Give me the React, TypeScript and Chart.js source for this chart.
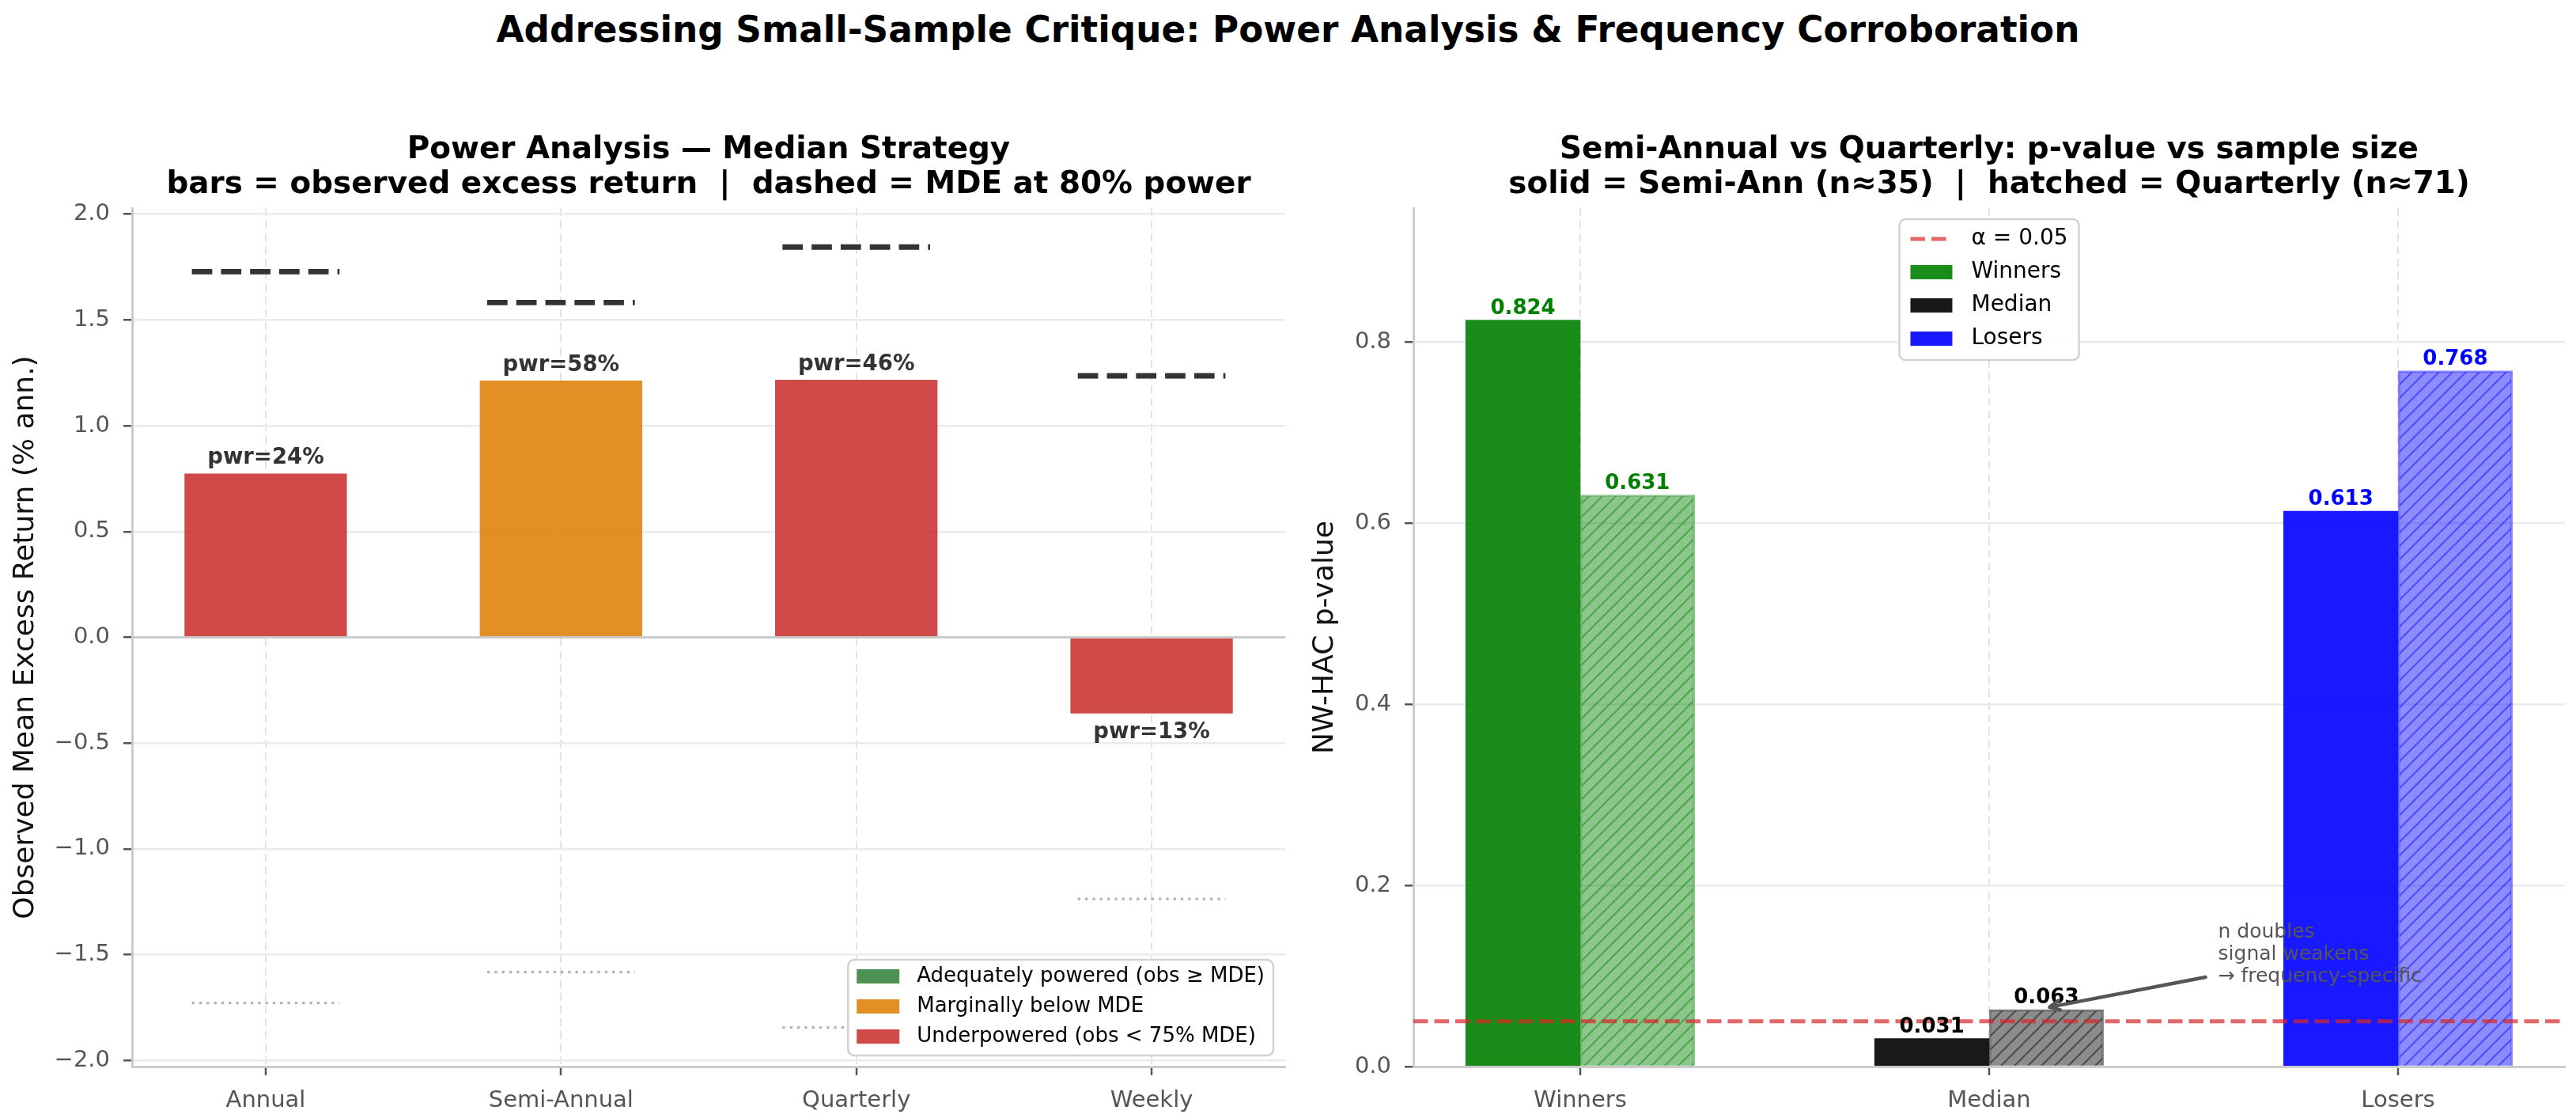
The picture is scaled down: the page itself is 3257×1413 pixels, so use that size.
import { useEffect, useRef } from 'react';
import { Chart, registerables } from 'chart.js';

Chart.register(...registerables);

const FONT = '"DejaVu Sans", "Liberation Sans", sans-serif';

// ---- Left panel: power analysis of the median strategy ----
const frequencies = ['Annual', 'Semi-Annual', 'Quarterly', 'Weekly'];
const observedExcess = [0.774, 1.213, 1.217, -0.36]; // % annualised
const mde80 = [1.728, 1.582, 1.844, 1.236]; // minimum detectable effect at 80% power
const powerPct = [24, 58, 46, 13];
const returnTicks = [-2, -1.5, -1, -0.5, 0, 0.5, 1, 1.5, 2];

const powerClasses = [
  { label: 'Adequately powered (obs \u2265 MDE)', color: 'rgba(58,134,64,0.9)' },
  { label: 'Marginally below MDE', color: 'rgba(223,131,14,0.9)' },
  { label: 'Underpowered (obs < 75% MDE)', color: 'rgba(203,54,54,0.9)' },
];

// ---- Right panel: NW-HAC p-values, semi-annual vs quarterly rebalancing ----
const portfolios = ['Winners', 'Median', 'Losers'];
const pSemiAnnual = [0.824, 0.031, 0.613];
const pQuarterly = [0.631, 0.063, 0.768];
const pTicks = [0, 0.2, 0.4, 0.6, 0.8];
const alphaLevel = 0.05;
const portfolioRGB = ['0,128,0', '0,0,0', '0,0,255'];
const noteLines = ['n doubles', 'signal weakens', '\u2192 frequency-specific'];

// ---- Layout ----
const PAGE_W = 3257;
const PAGE_H = 1413;
const PLOT_TOP = 263;
const X_AXIS_H = 65;
const LEFT_CANVAS_W = 1650;
const RIGHT_CANVAS_W = PAGE_W - LEFT_CANVAS_W;

const POWER_BAR_W = 0.55;
const MDE_HALF = 0.25;
const PAIR_BAR_W = 0.28;
const PAIR_OFF = PAIR_BAR_W / 2;

const TICK_FONT = { family: FONT, size: 29 };
const TICK_COLOR = '#555555';

function powerClass(obs: number, mde: number) {
  if (obs >= mde) return powerClasses[0];
  if (obs >= 0.75 * mde) return powerClasses[1];
  return powerClasses[2];
}

function fmtSigned(v: number, digits: number) {
  const s = Math.abs(v).toFixed(digits);
  return v < 0 ? '\u2212' + s : s;
}

function hatchPattern(rgb: string, alpha: number, spacing: number, lineWidth: number) {
  const c = document.createElement('canvas');
  c.width = spacing;
  c.height = spacing;
  const g = c.getContext('2d')!;
  g.fillStyle = `rgba(${rgb},${alpha})`;
  g.fillRect(0, 0, spacing, spacing);
  g.strokeStyle = `rgba(${rgb},${alpha})`;
  g.lineWidth = lineWidth;
  g.beginPath();
  for (const k of [0, 1, 2]) {
    const cst = k * spacing;
    g.moveTo(-2, cst + 2);
    g.lineTo(spacing + 2, cst - spacing - 2);
  }
  g.stroke();
  return g.createPattern(c, 'repeat')!;
}

function drawTitle(ctx: CanvasRenderingContext2D, cx: number, lines: string[]) {
  ctx.save();
  ctx.font = `bold 38.9px ${FONT}`;
  ctx.fillStyle = '#000';
  ctx.textAlign = 'center';
  ctx.textBaseline = 'alphabetic';
  ctx.fillText(lines[0], cx, 200);
  ctx.fillText(lines[1], cx, 244);
  ctx.restore();
}

function drawYLabel(ctx: CanvasRenderingContext2D, x: number, cy: number, text: string) {
  ctx.save();
  ctx.translate(x, cy);
  ctx.rotate(-Math.PI / 2);
  ctx.font = `36px ${FONT}`;
  ctx.fillStyle = '#111';
  ctx.textAlign = 'center';
  ctx.textBaseline = 'middle';
  ctx.fillText(text, 0, 0);
  ctx.restore();
}

function drawFrame(ctx: CanvasRenderingContext2D, x: number, y: number, w: number, h: number) {
  ctx.beginPath();
  ctx.roundRect(x, y, w, h, 8);
  ctx.fillStyle = 'rgba(255,255,255,0.92)';
  ctx.fill();
  ctx.strokeStyle = '#d2d2d2';
  ctx.lineWidth = 2.5;
  ctx.stroke();
}

function linearX(labels: string[], min: number, max: number, dashed: boolean) {
  return {
    type: 'linear' as const,
    min,
    max,
    offset: false,
    afterBuildTicks: (s: any) => {
      s.ticks = labels.map((_, i) => ({ value: i }));
    },
    afterFit: (s: any) => {
      s.height = X_AXIS_H;
      s.paddingLeft = 0;
      s.paddingRight = 0;
    },
    ticks: {
      callback: (v: any) => labels[Math.round(Number(v))],
      font: TICK_FONT,
      color: TICK_COLOR,
      padding: 15,
      autoSkip: false,
      maxRotation: 0,
    },
    grid: {
      offset: false,
      color: '#e3e3e3',
      lineWidth: 2,
      tickColor: TICK_COLOR,
      tickLength: 11,
      tickWidth: 2.5,
    },
    border: { color: '#cccccc', width: 3, dash: dashed ? [10, 6] : [] },
  };
}

function linearY(min: number, max: number, ticks: number[], width: number, digits: number) {
  return {
    type: 'linear' as const,
    min,
    max,
    afterBuildTicks: (s: any) => {
      s.ticks = ticks.map((v) => ({ value: v }));
    },
    afterFit: (s: any) => {
      s.width = width;
      s.paddingTop = 0;
      s.paddingBottom = 0;
    },
    ticks: {
      callback: (v: any) => fmtSigned(Number(v), digits),
      font: TICK_FONT,
      color: TICK_COLOR,
      padding: 17,
    },
    grid: {
      color: '#ebebeb',
      lineWidth: 2.5,
      tickColor: TICK_COLOR,
      tickLength: 11,
      tickWidth: 2.5,
    },
    border: { color: '#cccccc', width: 3 },
  };
}

function buildPowerConfig(): any {
  const yLim = Math.max(...mde80) * 1.1;
  const span = frequencies.length - 1 + POWER_BAR_W;
  const xMin = -POWER_BAR_W / 2 - 0.05 * span;
  const xMax = frequencies.length - 1 + POWER_BAR_W / 2 + 0.05 * span;

  const segments = (vals: number[]) =>
    vals.flatMap((v, i) => [
      { x: i - MDE_HALF, y: v },
      { x: i + MDE_HALF, y: v },
      { x: i + 0.5, y: null },
    ]);

  const decor = {
    id: 'powerDecor',
    afterDatasetsDraw(chart: any) {
      const { ctx, chartArea: a, scales } = chart;
      ctx.save();
      const y0 = scales.y.getPixelForValue(0);
      ctx.strokeStyle = '#c6c6c6';
      ctx.lineWidth = 2.5;
      ctx.beginPath();
      ctx.moveTo(a.left, y0);
      ctx.lineTo(a.right, y0);
      ctx.stroke();

      const meta = chart.getDatasetMeta(0);
      ctx.font = `bold 27.5px ${FONT}`;
      ctx.fillStyle = '#333333';
      ctx.textAlign = 'center';
      meta.data.forEach((el: any, i: number) => {
        const txt = `pwr=${powerPct[i]}%`;
        if (observedExcess[i] >= 0) {
          ctx.textBaseline = 'alphabetic';
          ctx.fillText(txt, el.x, el.y - 12);
        } else {
          ctx.textBaseline = 'top';
          ctx.fillText(txt, el.x, el.y + 10);
        }
      });
      ctx.restore();
    },
    afterDraw(chart: any) {
      const { ctx, chartArea: a } = chart;
      drawTitle(ctx, (a.left + a.right) / 2, [
        'Power Analysis \u2014 Median Strategy',
        'bars = observed excess return  |  dashed = MDE at 80% power',
      ]);
      drawYLabel(ctx, 33, (a.top + a.bottom) / 2, 'Observed Mean Excess Return (% ann.)');

      ctx.save();
      ctx.font = `26px ${FONT}`;
      const textW = Math.max(...powerClasses.map((c) => ctx.measureText(c.label).width));
      const padX = 11;
      const sw = 54;
      const gap = 22;
      const rowH = 38;
      const boxW = padX + sw + gap + textW + padX;
      const boxH = 21 + rowH * (powerClasses.length - 1) + 24;
      const bx = a.right - 15 - boxW;
      const by = a.bottom - 14 - boxH;
      drawFrame(ctx, bx, by, boxW, boxH);
      powerClasses.forEach((c, i) => {
        const cy = by + 21 + i * rowH;
        ctx.fillStyle = c.color;
        ctx.fillRect(bx + padX, cy - 9, sw, 18);
        ctx.fillStyle = '#000';
        ctx.textAlign = 'left';
        ctx.textBaseline = 'middle';
        ctx.fillText(c.label, bx + padX + sw + gap, cy);
      });
      ctx.restore();
    },
  };

  return {
    type: 'bar',
    data: {
      datasets: [
        {
          type: 'bar',
          label: 'Observed excess return',
          data: frequencies.map((_, i) => ({ x: i, y: observedExcess[i] })),
          backgroundColor: frequencies.map((_, i) => powerClass(observedExcess[i], mde80[i]).color),
          borderWidth: 0,
          barPercentage: POWER_BAR_W,
          categoryPercentage: 1,
          order: 2,
        },
        {
          type: 'line',
          label: 'MDE (80% power)',
          data: segments(mde80),
          borderColor: '#333333',
          borderWidth: 6.9,
          borderDash: [25.7, 11.1],
          pointRadius: 0,
          spanGaps: false,
          order: 0,
        },
        {
          type: 'line',
          label: '\u2212MDE',
          data: segments(mde80.map((v) => -v)),
          borderColor: 'rgba(128,128,128,0.6)',
          borderWidth: 3.3,
          borderDash: [3.3, 6],
          pointRadius: 0,
          spanGaps: false,
          order: 0,
        },
      ],
    },
    options: {
      animation: false,
      responsive: false,
      devicePixelRatio: 1,
      events: [],
      layout: { padding: { left: 0, top: PLOT_TOP, right: LEFT_CANVAS_W - 1625, bottom: 0 } },
      plugins: { legend: { display: false }, tooltip: { enabled: false }, title: { display: false } },
      scales: {
        x: linearX(frequencies, xMin, xMax, true),
        y: linearY(-yLim, yLim, returnTicks, 167, 1),
      },
    },
    plugins: [decor],
  };
}

function buildPValueConfig(): any {
  const yMax = Math.max(...pSemiAnnual, ...pQuarterly) * 1.15;
  const span = portfolios.length - 1 + 2 * PAIR_BAR_W;
  const xMin = -PAIR_BAR_W - 0.05 * span;
  const xMax = portfolios.length - 1 + PAIR_BAR_W + 0.05 * span;
  const hatched = portfolioRGB.map((rgb) => hatchPattern(rgb, 0.45, 17, 2.2));

  const decor = {
    id: 'pvalueDecor',
    afterDatasetsDraw(chart: any) {
      const { ctx, scales } = chart;
      ctx.save();
      ctx.font = `bold 26px ${FONT}`;
      ctx.textAlign = 'center';
      ctx.textBaseline = 'alphabetic';
      [
        { idx: 1, vals: pSemiAnnual },
        { idx: 2, vals: pQuarterly },
      ].forEach(({ idx, vals }) => {
        chart.getDatasetMeta(idx).data.forEach((el: any, i: number) => {
          ctx.fillStyle = `rgb(${portfolioRGB[i]})`;
          ctx.fillText(vals[i].toFixed(3), el.x, el.y - 8);
        });
      });

      // annotation on the median pair
      const tx = scales.x.getPixelForValue(1.56);
      const tyLast = scales.y.getPixelForValue(0.0934);
      ctx.font = `25px ${FONT}`;
      ctx.fillStyle = '#555555';
      ctx.textAlign = 'left';
      noteLines.forEach((line, i) => {
        ctx.fillText(line, tx, tyLast - (noteLines.length - 1 - i) * 28);
      });
      const hx = scales.x.getPixelForValue(1 + PAIR_OFF) + 4;
      const hy = scales.y.getPixelForValue(pQuarterly[1]) - 3;
      const sx = tx - 16;
      const sy = tyLast - 6;
      const ang = Math.atan2(hy - sy, hx - sx);
      ctx.strokeStyle = '#555555';
      ctx.lineWidth = 4.5;
      ctx.lineCap = 'round';
      ctx.lineJoin = 'round';
      ctx.beginPath();
      ctx.moveTo(sx, sy);
      ctx.lineTo(hx, hy);
      const hl = 14;
      ctx.moveTo(hx - hl * Math.cos(ang - 0.45), hy - hl * Math.sin(ang - 0.45));
      ctx.lineTo(hx, hy);
      ctx.lineTo(hx - hl * Math.cos(ang + 0.45), hy - hl * Math.sin(ang + 0.45));
      ctx.stroke();
      ctx.restore();
    },
    afterDraw(chart: any) {
      const { ctx, chartArea: a } = chart;
      drawTitle(ctx, (a.left + a.right) / 2, [
        'Semi-Annual vs Quarterly: p-value vs sample size',
        'solid = Semi-Ann (n\u224835)  |  hatched = Quarterly (n\u224871)',
      ]);
      drawYLabel(ctx, 26, (a.top + a.bottom) / 2, 'NW-HAC p-value');

      ctx.save();
      ctx.font = `28px ${FONT}`;
      const labels = [`\u03b1 = ${alphaLevel}`, ...portfolios];
      const textW = Math.max(...labels.map((t) => ctx.measureText(t).width));
      const padX = 14;
      const sw = 53;
      const gap = 24;
      const rowH = 42;
      const boxW = padX + sw + gap + textW + padX;
      const boxH = 25 + rowH * (labels.length - 1) + 27;
      const bx = (a.left + a.right) / 2 - boxW / 2;
      const by = a.top + 14;
      drawFrame(ctx, bx, by, boxW, boxH);
      labels.forEach((t, i) => {
        const cy = by + 25 + i * rowH;
        if (i === 0) {
          ctx.save();
          ctx.strokeStyle = 'rgba(214,39,40,0.7)';
          ctx.lineWidth = 5;
          ctx.setLineDash([18.5, 8]);
          ctx.beginPath();
          ctx.moveTo(bx + padX, cy);
          ctx.lineTo(bx + padX + sw, cy);
          ctx.stroke();
          ctx.restore();
        } else {
          ctx.fillStyle = `rgba(${portfolioRGB[i - 1]},0.9)`;
          ctx.fillRect(bx + padX, cy - 9, sw, 18);
        }
        ctx.fillStyle = '#000';
        ctx.textAlign = 'left';
        ctx.textBaseline = 'middle';
        ctx.fillText(t, bx + padX + sw + gap, cy);
      });
      ctx.restore();
    },
  };

  return {
    type: 'bar',
    data: {
      datasets: [
        {
          type: 'line',
          label: `\u03b1 = ${alphaLevel}`,
          data: [
            { x: xMin, y: alphaLevel },
            { x: xMax, y: alphaLevel },
          ],
          borderColor: 'rgba(214,39,40,0.7)',
          borderWidth: 5,
          borderDash: [18.5, 8],
          pointRadius: 0,
          order: 0,
        },
        {
          type: 'bar',
          label: 'Semi-Annual',
          data: portfolios.map((_, i) => ({ x: i - PAIR_OFF, y: pSemiAnnual[i] })),
          backgroundColor: portfolioRGB.map((rgb) => `rgba(${rgb},0.9)`),
          borderWidth: 0,
          grouped: false,
          barPercentage: 1,
          categoryPercentage: 1,
          order: 2,
        },
        {
          type: 'bar',
          label: 'Quarterly',
          data: portfolios.map((_, i) => ({ x: i + PAIR_OFF, y: pQuarterly[i] })),
          backgroundColor: hatched,
          borderColor: portfolioRGB.map((rgb) => `rgba(${rgb},0.45)`),
          borderWidth: 2,
          grouped: false,
          barPercentage: 1,
          categoryPercentage: 1,
          order: 1,
        },
      ],
    },
    options: {
      animation: false,
      responsive: false,
      devicePixelRatio: 1,
      events: [],
      layout: { padding: { left: 0, top: PLOT_TOP, right: RIGHT_CANVAS_W - (3243 - LEFT_CANVAS_W), bottom: 0 } },
      plugins: { legend: { display: false }, tooltip: { enabled: false }, title: { display: false } },
      scales: {
        x: linearX(portfolios, xMin, xMax, true),
        y: linearY(0, yMax, pTicks, 1787 - LEFT_CANVAS_W, 1),
      },
    },
    plugins: [decor],
  };
}

export default function App() {
  const leftRef = useRef<HTMLCanvasElement>(null);
  const rightRef = useRef<HTMLCanvasElement>(null);

  useEffect(() => {
    const left = new Chart(leftRef.current!, buildPowerConfig());
    const right = new Chart(rightRef.current!, buildPValueConfig());
    return () => {
      left.destroy();
      right.destroy();
    };
  }, []);

  return (
    <div
      style={{
        position: 'absolute',
        left: 0,
        top: 0,
        width: PAGE_W,
        height: PAGE_H,
        background: '#ffffff',
        overflow: 'hidden',
      }}
    >
      <div
        style={{
          position: 'absolute',
          left: 0,
          top: 15,
          width: PAGE_W,
          textAlign: 'center',
          fontFamily: FONT,
          fontWeight: 'bold',
          fontSize: '45.3px',
          lineHeight: '45.3px',
          color: '#000',
          whiteSpace: 'pre',
        }}
      >
        Addressing Small-Sample Critique: Power Analysis &amp; Frequency Corroboration
      </div>
      <canvas
        ref={leftRef}
        width={LEFT_CANVAS_W}
        height={PAGE_H}
        style={{ position: 'absolute', left: 0, top: 0, width: LEFT_CANVAS_W, height: PAGE_H }}
      />
      <canvas
        ref={rightRef}
        width={RIGHT_CANVAS_W}
        height={PAGE_H}
        style={{ position: 'absolute', left: LEFT_CANVAS_W, top: 0, width: RIGHT_CANVAS_W, height: PAGE_H }}
      />
    </div>
  );
}
